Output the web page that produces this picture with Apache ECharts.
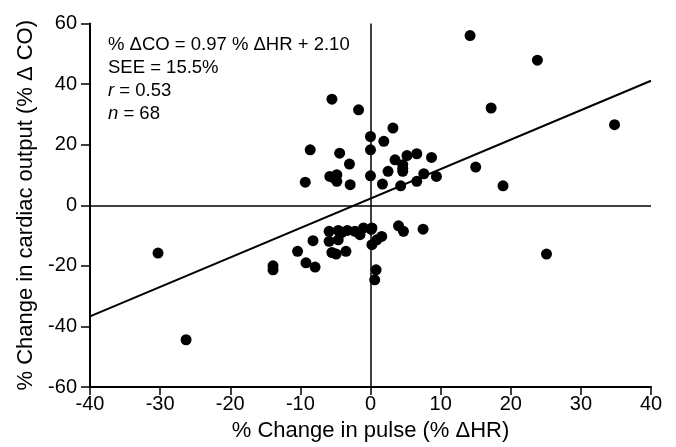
<!DOCTYPE html>
<html>
<head>
<meta charset="utf-8">
<script src="https://cdn.jsdelivr.net/npm/echarts@6/dist/echarts.min.js"></script>
<style>
html,body{margin:0;padding:0;background:#fff;}
#c{width:676px;height:447px;}
</style>
</head>
<body>
<div id="c"></div>
<script>
// % change in pulse (x) and % change in cardiac output (y)
const pulseChange = [
  14.2, 23.8, 17.2, 34.8, 15.0, 18.9, -5.5, -1.7, 0, 0,
  -8.6, -4.4, -3.0, -9.3, -5.8, -4.8, -4.8, -2.9, 0, 3.2,
  1.9, 3.5, 5.2, 6.6, 8.7, 4.6, 4.6, 2.5, 1.7, 4.3,
  6.6, 7.6, 9.4, 25.1, -30.3, -26.3, -13.9, -13.9, -10.4, -9.2,
  -7.9, -8.2, -5.9, -5.9, -4.6, -5.5, -4.9, -3.5, -4.6, -3.3,
  -2.2, -1.0, 0.2, -1.5, 0.2, 0.9, 1.6, 4.0, 4.7, 7.5,
  0.8, 0.6, -5.2, 4.6, -4.1, 0.1
];
const outputChange = [
  56.0, 47.9, 32.1, 26.6, 12.6, 6.4, 35.0, 31.5, 22.7, 18.3,
  18.3, 17.2, 13.6, 7.6, 9.5, 10.1, 7.9, 6.8, 9.7, 25.5,
  21.1, 15.0, 16.4, 17.0, 15.8, 13.4, 11.2, 11.2, 7.0, 6.4,
  7.9, 10.4, 9.5, -16.1, -15.8, -44.4, -20.0, -21.3, -15.2, -19.0,
  -20.4, -11.7, -8.6, -11.9, -11.4, -15.6, -16.1, -15.2, -8.3, -8.3,
  -8.6, -7.5, -7.5, -9.7, -13.0, -11.4, -10.3, -6.8, -8.6, -7.9,
  -21.3, -24.6, 9.0, 12.2, -9.0, -8.0
];
// regression line endpoints
const fitX = [-40, 40];
const fitY = [-36.7, 41.1];
const xTicks = [-40, -30, -20, -10, 0, 10, 20, 30, 40];
const yTicks = [-60, -40, -20, 0, 20, 40, 60];
const statsLines = ['% \u0394CO = 0.97 % \u0394HR + 2.10', 'SEE = 15.5%', '{i|r} = 0.53', '{i|n} = 68'];

const points = pulseChange.map((x, i) => [x, outputChange[i]]);
const fitLine = fitX.map((x, i) => [x, fitY[i]]);
const FONT = '"Liberation Sans", Arial, sans-serif';

const chart = echarts.init(document.getElementById('c'), null, {renderer: 'canvas'});
chart.setOption({
  animation: false,
  backgroundColor: '#fff',
  grid: {left: 90, right: 25, top: 23.5, bottom: 59.5},
  xAxis: {
    type: 'value', min: xTicks[0], max: xTicks[xTicks.length - 1], interval: 10,
    axisLine: {onZero: false, lineStyle: {color: '#000', width: 2}},
    axisTick: {show: true, length: 8, lineStyle: {color: '#000', width: 1.5}},
    axisLabel: {color: '#000', fontSize: 20, fontFamily: FONT, margin: 7},
    splitLine: {show: false},
    name: '% Change in pulse (% \u0394HR)', nameLocation: 'middle', nameGap: 33,
    nameTextStyle: {color: '#000', fontSize: 22, fontFamily: FONT}
  },
  yAxis: {
    type: 'value', min: yTicks[0], max: yTicks[yTicks.length - 1], interval: 20,
    axisLine: {onZero: false, lineStyle: {color: '#000', width: 2}},
    axisTick: {show: true, length: 9, lineStyle: {color: '#000', width: 1.5}},
    axisLabel: {color: '#000', fontSize: 20, fontFamily: FONT, margin: 13},
    splitLine: {show: false},
    name: '% Change in cardiac output (% \u0394 CO)', nameLocation: 'middle', nameGap: 50,
    nameTextStyle: {color: '#000', fontSize: 22, fontFamily: FONT}
  },
  series: [
    {
      type: 'line', data: fitLine, showSymbol: false, symbol: 'none',
      lineStyle: {color: '#000', width: 2}, z: 3,
      markLine: {
        silent: true, symbol: 'none', label: {show: false},
        lineStyle: {color: '#000', width: 1.5, type: 'solid'},
        data: [{xAxis: 0}, {yAxis: 0}]
      }
    },
    {
      type: 'scatter', data: points, symbol: 'circle', symbolSize: 11,
      itemStyle: {color: '#000', opacity: 1}, z: 4
    }
  ],
  graphic: [{
    type: 'text', left: 108, top: 34,
    style: {
      text: statsLines.join('\n'),
      fill: '#000', font: '18.5px ' + FONT, lineHeight: 22.7,
      rich: {i: {fontStyle: 'italic', fontSize: 18.5, fontFamily: FONT, fill: '#000', lineHeight: 22.7}}
    }
  }]
});
</script>
</body>
</html>
